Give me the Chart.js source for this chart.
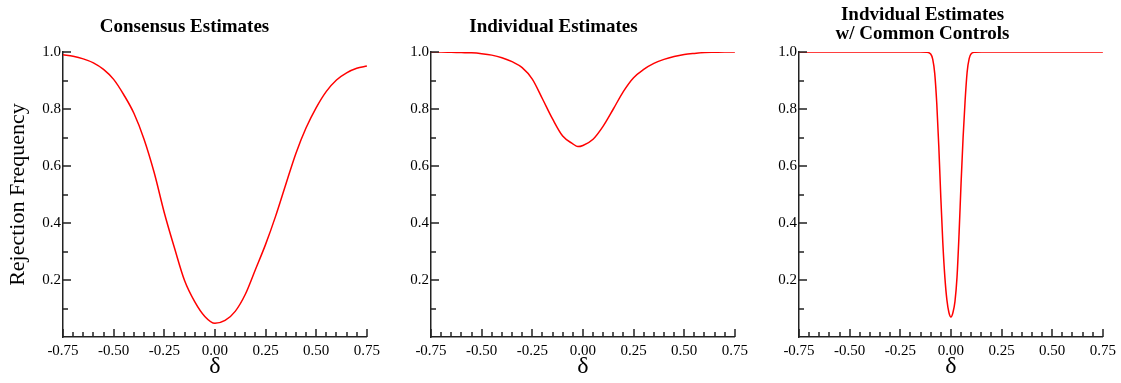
<!DOCTYPE html>
<html>
<head>
<meta charset="utf-8">
<script src="https://cdn.jsdelivr.net/npm/chart.js@4.4.1/dist/chart.umd.min.js"></script>
<style>
  body { margin: 0; background: #fff; }
  #wrap { position: relative; width: 1121px; height: 383px; overflow: hidden; }
  canvas { position: absolute; top: 0; }
</style>
</head>
<body>
<div id="wrap">
  <canvas id="panel1" width="385" height="383" style="left:0px"></canvas>
  <canvas id="panel2" width="383" height="383" style="left:370px"></canvas>
  <canvas id="panel3" width="381" height="383" style="left:740px"></canvas>
</div>
<script>
// consensus estimates
const deltaConsensus = [-0.75, -0.70, -0.65, -0.60, -0.55, -0.50, -0.45, -0.40, -0.35, -0.30, -0.25, -0.20, -0.15, -0.10, -0.05, 0.00,
  0.05, 0.10, 0.15, 0.20, 0.25, 0.30, 0.35, 0.40, 0.45, 0.50, 0.55, 0.60, 0.65, 0.70, 0.75]
const rejConsensus = [0.99, 0.985, 0.976, 0.962, 0.939, 0.904, 0.85, 0.785, 0.694, 0.577, 0.436, 0.313, 0.198, 0.124, 0.072, 0.048,
  0.058, 0.09, 0.15, 0.237, 0.325, 0.425, 0.536, 0.645, 0.734, 0.805, 0.862, 0.902, 0.927, 0.943, 0.951]

// individual estimates
const deltaIndividual = [-0.75, -0.70, -0.65, -0.60, -0.55, -0.50, -0.45, -0.40, -0.35, -0.30, -0.25, -0.20, -0.15, -0.10, -0.05, -0.025, 0.00,
  0.05, 0.10, 0.15, 0.20, 0.25, 0.30, 0.35, 0.40, 0.45, 0.50, 0.55, 0.60, 0.65, 0.70, 0.75]
const rejIndividual = [1.0, 1.0, 0.999, 0.998, 0.997, 0.994, 0.989, 0.98, 0.966, 0.945, 0.905, 0.836, 0.765, 0.705, 0.678, 0.668, 0.672,
  0.694, 0.74, 0.80, 0.862, 0.91, 0.939, 0.96, 0.974, 0.984, 0.991, 0.995, 0.998, 0.999, 1.0, 1.0]

// individual estimates w/ common controls
const deltaCommon = [-0.75, -0.15, -0.12, -0.10, -0.09, -0.08, -0.07, -0.06, -0.05, -0.04, -0.03, -0.02, -0.01, 0.00,
  0.01, 0.02, 0.03, 0.04, 0.05, 0.06, 0.07, 0.08, 0.09, 0.10, 0.12, 0.15, 0.75]
const rejCommon = [1.0, 1.0, 0.999, 0.993, 0.975, 0.925, 0.82, 0.67, 0.49, 0.33, 0.21, 0.13, 0.086, 0.07,
  0.086, 0.125, 0.21, 0.36, 0.54, 0.70, 0.83, 0.93, 0.977, 0.994, 0.999, 1.0, 1.0]

const titles = [['Consensus Estimates'], ['Individual Estimates'], ['Indvidual Estimates', 'w/ Common Controls']]
const xLabel = 'δ'
const yLabel = 'Rejection Frequency'

Chart.defaults.font.family = "'Liberation Serif', 'Times New Roman', serif"
Chart.defaults.color = '#000'

// ticks pointing into the plot, major and minor
const inTicks = {
  id: 'inTicks',
  afterDraw(chart) {
    const { ctx, chartArea, scales } = chart
    ctx.save()
    ctx.strokeStyle = '#222'
    ctx.lineWidth = 1.5
    ctx.beginPath()
    for (let i = -15; i <= 15; i++) {
      const px = Math.round(scales.x.getPixelForValue(i * 0.05))
      const len = i % 5 === 0 ? 8 : 5
      ctx.moveTo(px, chartArea.bottom)
      ctx.lineTo(px, chartArea.bottom - len)
    }
    for (let i = 1; i <= 10; i++) {
      const py = Math.round(scales.y.getPixelForValue(i * 0.1))
      const len = i % 2 === 0 ? 8 : 5
      ctx.moveTo(chartArea.left, py)
      ctx.lineTo(chartArea.left + len, py)
    }
    ctx.stroke()
    ctx.restore()
  }
}

function makePanel(id, xs, ys, title, yWidth, showY, titlePad) {
  new Chart(document.getElementById(id), {
    type: 'line',
    data: {
      datasets: [{
        data: xs.map((x, i) => ({ x: x, y: ys[i] })),
        borderColor: '#ff0000',
        borderWidth: 1.5,
        pointRadius: 0,
        cubicInterpolationMode: 'monotone',
        fill: false
      }]
    },
    options: {
      responsive: false,
      animation: false,
      layout: { padding: { top: 0, right: 16, bottom: 0, left: 0 } },
      plugins: {
        legend: { display: false },
        tooltip: { enabled: false },
        title: {
          display: true,
          text: title,
          color: '#000',
          font: { size: 19, weight: 'bold', lineHeight: title.length > 1 ? 1.0 : 1.2 },
          padding: titlePad
        }
      },
      scales: {
        x: {
          type: 'linear',
          min: -0.75,
          max: 0.75,
          afterFit: s => { s.height = 46 },
          ticks: {
            stepSize: 0.25,
            padding: 5,
            maxRotation: 0,
            font: { size: 15 },
            callback: v => (Math.abs(v) < 1e-9 ? 0 : v).toFixed(2)
          },
          grid: { display: true, drawOnChartArea: false, drawTicks: false },
          border: { display: true, color: '#222', width: 1.5 },
          title: { display: true, text: xLabel, font: { size: 24 }, padding: { top: 0, bottom: 2 } }
        },
        y: {
          min: 0,
          max: 1,
          afterFit: s => { s.width = yWidth },
          ticks: {
            stepSize: 0.2,
            padding: 2,
            font: { size: 15 },
            callback: v => v < 0.01 ? '' : v.toFixed(1)
          },
          grid: { display: true, drawOnChartArea: false, drawTicks: false },
          border: { display: true, color: '#222', width: 1.5 },
          title: { display: showY, text: yLabel, font: { size: 22 }, padding: { top: 5, bottom: 0 } }
        }
      }
    },
    plugins: [inTicks]
  })
}

makePanel('panel1', deltaConsensus, rejConsensus, titles[0], 63, true, { top: 16, bottom: 13.2 })
makePanel('panel2', deltaIndividual, rejIndividual, titles[1], 61, false, { top: 16, bottom: 13.2 })
makePanel('panel3', deltaCommon, rejCommon, titles[2], 59, false, { top: 5.5, bottom: 8.5 })
</script>
</body>
</html>
